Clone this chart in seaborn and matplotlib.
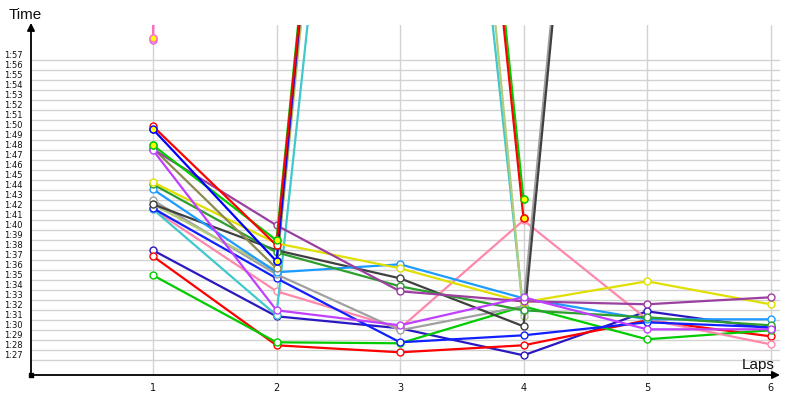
import matplotlib
matplotlib.use("Agg")
import matplotlib.pyplot as plt
import matplotlib.transforms as mtransforms
import seaborn as sns
import pandas as pd
import numpy as np

nan = np.nan

# lap numbers
laps = [1, 2, 3, 4, 5, 6]

# lap times in seconds, one list per driver (nan = no lap)
red_a = [110.4, 98.5, 221.0, 101.2, nan, nan]
blue_a = [110.1, 96.9, 226.0, nan, nan, nan]
green_a = [108.5, 99.0, 222.0, 103.1, nan, nan]
olive = [108.2, 96.2, 225.0, nan, nan, nan]
violet = [108.0, 92.0, 90.5, 93.3, 90.1, 90.1]
purple = [108.1, 100.5, 93.9, 92.9, 92.6, 93.3]
yellow = [104.8, 98.7, 96.2, 92.8, 94.9, 92.6]
dark_green = [104.6, 97.8, 94.4, 92.0, 91.3, 90.5]
light_blue = [104.1, 95.8, 96.6, 93.2, 91.1, 91.1]
gray = [103.0, 95.6, 90.0, 92.4, 220.0, nan]
light_olive = [102.6, 96.0, 220.0, 91.4, nan, nan]
dark_gray = [102.6, 98.0, 95.2, 90.4, 219.0, nan]
cyan = [102.1, 91.5, 207.0, 91.8, nan, nan]
blue_b = [102.2, 95.2, 88.8, 89.5, 90.8, 90.3]
pink = [102.1, 93.9, 90.2, 101.0, 91.1, 88.6]
navy = [98.0, 91.4, 90.2, 87.5, 91.9, 90.2]
red_b = [97.4, 88.5, 87.8, 88.5, 91.0, 89.4]
green_b = [95.5, 88.8, 88.7, 92.4, 89.1, 90.0]
magenta = [119.0, 900.0, nan, nan, nan, nan]
hot_pink = [119.2, 900.0, nan, nan, nan, nan]

drivers = ["magenta", "navy", "red_b", "green_b", "pink", "cyan", "blue_b", "gray",
           "light_olive", "dark_gray", "light_blue", "dark_green", "yellow", "olive",
           "purple", "violet", "green_a", "blue_a", "red_a", "hot_pink"]
times = [magenta, navy, red_b, green_b, pink, cyan, blue_b, gray,
         light_olive, dark_gray, light_blue, dark_green, yellow, olive,
         purple, violet, green_a, blue_a, red_a, hot_pink]
colors = ["#d060e0", "#2a18c0", "#ff0000", "#00cc00", "#ff88aa", "#40c8cc", "#1020ff", "#a0a0a0",
          "#b4cc7a", "#404040", "#1e9bff", "#2e9e2e", "#e0e000", "#8c8a50",
          "#9b3fa0", "#c040ff", "#00cc00", "#0000ff", "#ff0000", "#ff70c0"]

# points drawn with a yellow marker face
yellow_pts = {"blue_a": [1, 2], "green_a": [1, 2, 4], "red_a": [4], "hot_pink": [1]}

# y tick labels 1:27 .. 1:57
ytick_vals = list(range(87, 118))
ytick_labels = ["1:%02d" % (v - 60) for v in ytick_vals]

rows = []
for name, vals in zip(drivers, times):
    for lap, t in zip(laps, vals):
        if not np.isnan(t):
            rows.append({"driver": name, "lap": lap, "time": t})
df = pd.DataFrame(rows)
palette = dict(zip(drivers, colors))

sns.set_style("white")
plt.rcParams["font.family"] = ["DejaVu Sans"]

fig = plt.figure(figsize=(8, 4), dpi=100)
ax = fig.add_axes([31 / 800, 25 / 400, 749 / 800, 350 / 400])

sns.lineplot(data=df, x="lap", y="time", hue="driver", hue_order=drivers, palette=palette,
             marker="o", markersize=5, linewidth=1.6, errorbar=None, legend=False,
             sort=False, ax=ax)
for line, c in zip(ax.lines, colors):
    line.set_markerfacecolor("white")
    line.set_markeredgecolor(c)
    line.set_markeredgewidth(1.0)

for name, pts in yellow_pts.items():
    i = drivers.index(name)
    for lap in pts:
        ax.plot(lap, times[i][lap - 1], marker="o", ms=5, mfc="#ffff00", mec=colors[i],
                mew=1.0, zorder=5)

ax.set_xlim(1 - 122 / 123.5, 1 + 627 / 123.5)
ax.set_ylim(117 - 314.7 / 10, 117 + 35.3 / 10)

ax.set_xticks(laps)
ax.set_yticks(ytick_vals)
ax.set_yticklabels([])
ax.grid(True, color="#d2d2d2", linewidth=1)
ax.tick_params(length=0)
ax.tick_params(axis="x", pad=5.5, labelsize=7, labelcolor="#111111")
ax.set_xlabel("")
ax.set_ylabel("")
for s in ax.spines.values():
    s.set_visible(False)

trans = mtransforms.blended_transform_factory(ax.transAxes, ax.transData)
for v, lab in zip(ytick_vals, ytick_labels):
    ax.text(-27 / 749, v + 0.46, lab, transform=trans, ha="left", va="center",
            fontsize=6, color="#111111")

# axis arrows
ax.annotate("", xy=(0, 1.006), xytext=(0, 0), xycoords="axes fraction",
            arrowprops=dict(arrowstyle="-|>", color="black", lw=1.3, mutation_scale=11,
                            shrinkA=0, shrinkB=0))
ax.annotate("", xy=(1.0, 0), xytext=(0, 0), xycoords="axes fraction",
            arrowprops=dict(arrowstyle="-|>", color="black", lw=1.3, mutation_scale=11,
                            shrinkA=0, shrinkB=0))
ax.scatter([0], [0], transform=ax.transAxes, marker="s", s=12, c="black", clip_on=False, zorder=6)

fig.text(25 / 800, 1 - 15 / 400, "Time", ha="center", va="center", fontsize=11,
         family=["Liberation Sans", "DejaVu Sans"], color="#111111")
fig.text(758 / 800, 1 - 365 / 400, "Laps", ha="center", va="center", fontsize=11,
         family=["Liberation Sans", "DejaVu Sans"], color="#111111")

fig.savefig("out.png", dpi=100, facecolor="white")
